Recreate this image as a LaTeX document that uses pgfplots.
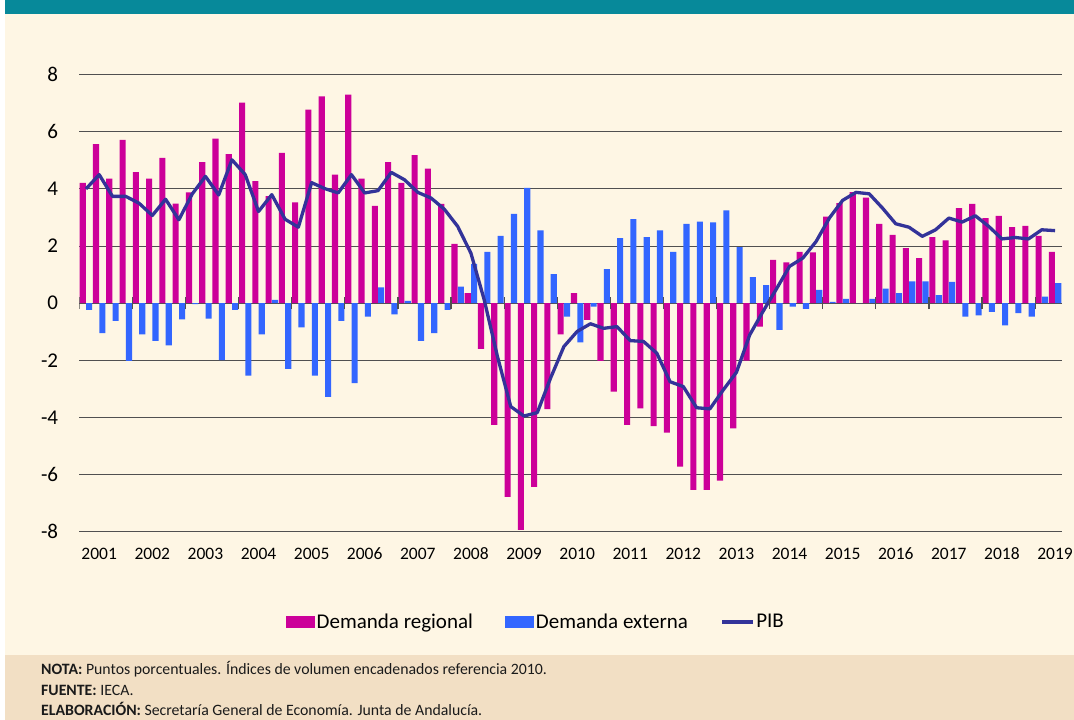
\documentclass[border=0pt]{standalone}
\usepackage{pgfplots}
\pgfplotsset{compat=1.18}
\usepackage{pgfplotstable}
\usepackage{fontspec}
\setmainfont{Carlito}
\definecolor{magcol}{HTML}{CC0099}
\definecolor{blucol}{HTML}{3366FF}
\definecolor{pibcol}{HTML}{333399}
\definecolor{tealcol}{HTML}{07899A}
\definecolor{creamcol}{HTML}{FEF6E4}
\definecolor{beigecol}{HTML}{F2DFC4}
\definecolor{gridcol}{HTML}{505050}
\definecolor{txtcol}{HTML}{1A1A1A}

\pgfplotstableread{
x reg ext pib
0 4.21 -0.23 4.00
1 5.57 -1.05 4.50
2 4.36 -0.62 3.74
3 5.72 -2.02 3.74
4 4.59 -1.09 3.50
5 4.36 -1.32 3.07
6 5.09 -1.48 3.64
7 3.49 -0.57 2.92
8 3.88 -0.03 3.82
9 4.94 -0.54 4.44
10 5.76 -1.99 3.79
11 5.22 -0.23 5.02
12 7.02 -2.54 4.50
13 4.27 -1.09 3.21
14 3.75 0.12 3.80
15 5.26 -2.30 2.94
16 3.53 -0.85 2.66
17 6.78 -2.54 4.22
18 7.24 -3.28 4.01
19 4.50 -0.62 3.86
20 7.30 -2.80 4.50
21 4.36 -0.47 3.86
22 3.41 0.55 3.94
23 4.94 -0.39 4.58
24 4.21 0.08 4.32
25 5.18 -1.32 3.88
26 4.71 -1.05 3.68
27 3.48 -0.23 3.29
28 2.08 0.58 2.69
29 0.35 1.38 1.75
30 -1.60 1.80 0.12
31 -4.26 2.36 -1.87
32 -6.78 3.13 -3.62
33 -7.94 4.04 -3.95
34 -6.43 2.55 -3.83
35 -3.71 1.02 -2.62
36 -1.09 -0.47 -1.52
37 0.35 -1.37 -0.99
38 -0.58 -0.12 -0.72
39 -2.02 1.19 -0.88
40 -3.10 2.28 -0.82
41 -4.26 2.94 -1.31
42 -3.68 2.31 -1.34
43 -4.30 2.55 -1.75
44 -4.53 1.80 -2.75
45 -5.72 2.78 -2.92
46 -6.54 2.86 -3.66
47 -6.54 2.83 -3.70
48 -6.21 3.25 -3.04
49 -4.38 1.96 -2.42
50 -2.01 0.91 -1.11
51 -0.82 0.63 -0.29
52 1.52 -0.93 0.49
53 1.43 -0.12 1.29
54 1.80 -0.20 1.58
55 1.78 0.47 2.16
56 3.03 0.05 2.98
57 3.50 0.15 3.60
58 3.89 0.00 3.88
59 3.70 0.15 3.83
60 2.78 0.51 3.33
61 2.39 0.35 2.78
62 1.93 0.76 2.66
63 1.58 0.76 2.34
64 2.31 0.28 2.57
65 2.20 0.75 2.98
66 3.33 -0.47 2.84
67 3.48 -0.43 3.06
68 2.98 -0.30 2.69
69 3.06 -0.78 2.25
70 2.66 -0.35 2.30
71 2.71 -0.47 2.25
72 2.36 0.23 2.57
73 1.80 0.70 2.54
}\datatable

\begin{document}
\begin{tikzpicture}
\fill[white] (0pt,0pt) rectangle (1074pt,720pt);
\fill[tealcol] (5pt,706pt) rectangle (1074pt,720pt);
\fill[creamcol] (5pt,65pt) rectangle (1074pt,706pt);
\fill[beigecol] (5pt,0pt) rectangle (1074pt,65pt);
\begin{axis}[
  at={(79.3pt,188.3pt)}, anchor=south west,
  scale only axis, width=982.4pt, height=457pt,
  xmin=-0.5, xmax=73.5, ymin=-8, ymax=8,
  ytick={-8,-6,-4,-2,0,2,4,6,8},
  xtick={1,5,9,13,17,21,25,29,33,37,41,45,49,53,57,61,65,69,73},
  xticklabels={2001,2002,2003,2004,2005,2006,2007,2008,2009,2010,2011,2012,2013,2014,2015,2016,2017,2018,2019},
  /pgf/number format/assume math mode=true,
  axis line style={draw=none},
  major tick length=0pt,
  ymajorgrids,
  major grid style={gridcol, line width=1pt},
  yticklabel style={font=\fontsize{21}{25}\selectfont, anchor=east, inner sep=0pt, xshift=-21pt, text=black},
  xticklabel style={font=\fontsize{17.5}{20}\selectfont, anchor=base, inner sep=0pt, yshift=-28.3pt, text=black},
  legend style={draw=none, fill=none, font=\fontsize{21}{25}\selectfont,
    legend columns=3, anchor=west, at={(0.2104,-0.1976)},
    inner sep=0pt, nodes={inner sep=1.5pt},
    /tikz/every even column/.append style={column sep=31pt}},
]
\addplot[ybar, bar width=0.46, bar shift=-0.24, fill=magcol, draw=none,
  legend image code/.code={\fill[magcol] (0pt,-6pt) rectangle (29pt,6pt);}]
  table[x=x, y=reg] {\datatable};
\addlegendentry{Demanda regional}
\addplot[ybar, bar width=0.46, bar shift=0.24, fill=blucol, draw=none,
  legend image code/.code={\fill[blucol] (0pt,-6pt) rectangle (29pt,6pt);}]
  table[x=x, y=ext] {\datatable};
\addlegendentry{Demanda externa}
\addplot[pibcol, line width=3.3pt, mark=none, line join=round,
  legend image code/.code={\draw[pibcol, line width=3.3pt] (0pt,0pt) -- (31pt,0pt);}]
  table[x=x, y=pib] {\datatable};
\addlegendentry{PIB}
\pgfplotsinvokeforeach{-0.5,3.5,...,71.5}{\draw[gridcol, line width=1.2pt] ([yshift=-6pt]axis cs:#1,0) -- ([yshift=6pt]axis cs:#1,0);}
\end{axis}
\begin{scope}[every node/.style={anchor=base west, inner sep=0pt, font=\fontsize{15.8}{18}\selectfont, text=txtcol}]
\node at (41pt,45pt) {\textbf{NOTA:} Puntos porcentuales. Índices de volumen encadenados referencia 2010.};
\node at (41pt,24.5pt) {\textbf{FUENTE:} IECA.};
\node at (41pt,4.2pt) {\textbf{ELABORACIÓN:} Secretaría General de Economía. Junta de Andalucía.};
\end{scope}
\end{tikzpicture}
\end{document}
